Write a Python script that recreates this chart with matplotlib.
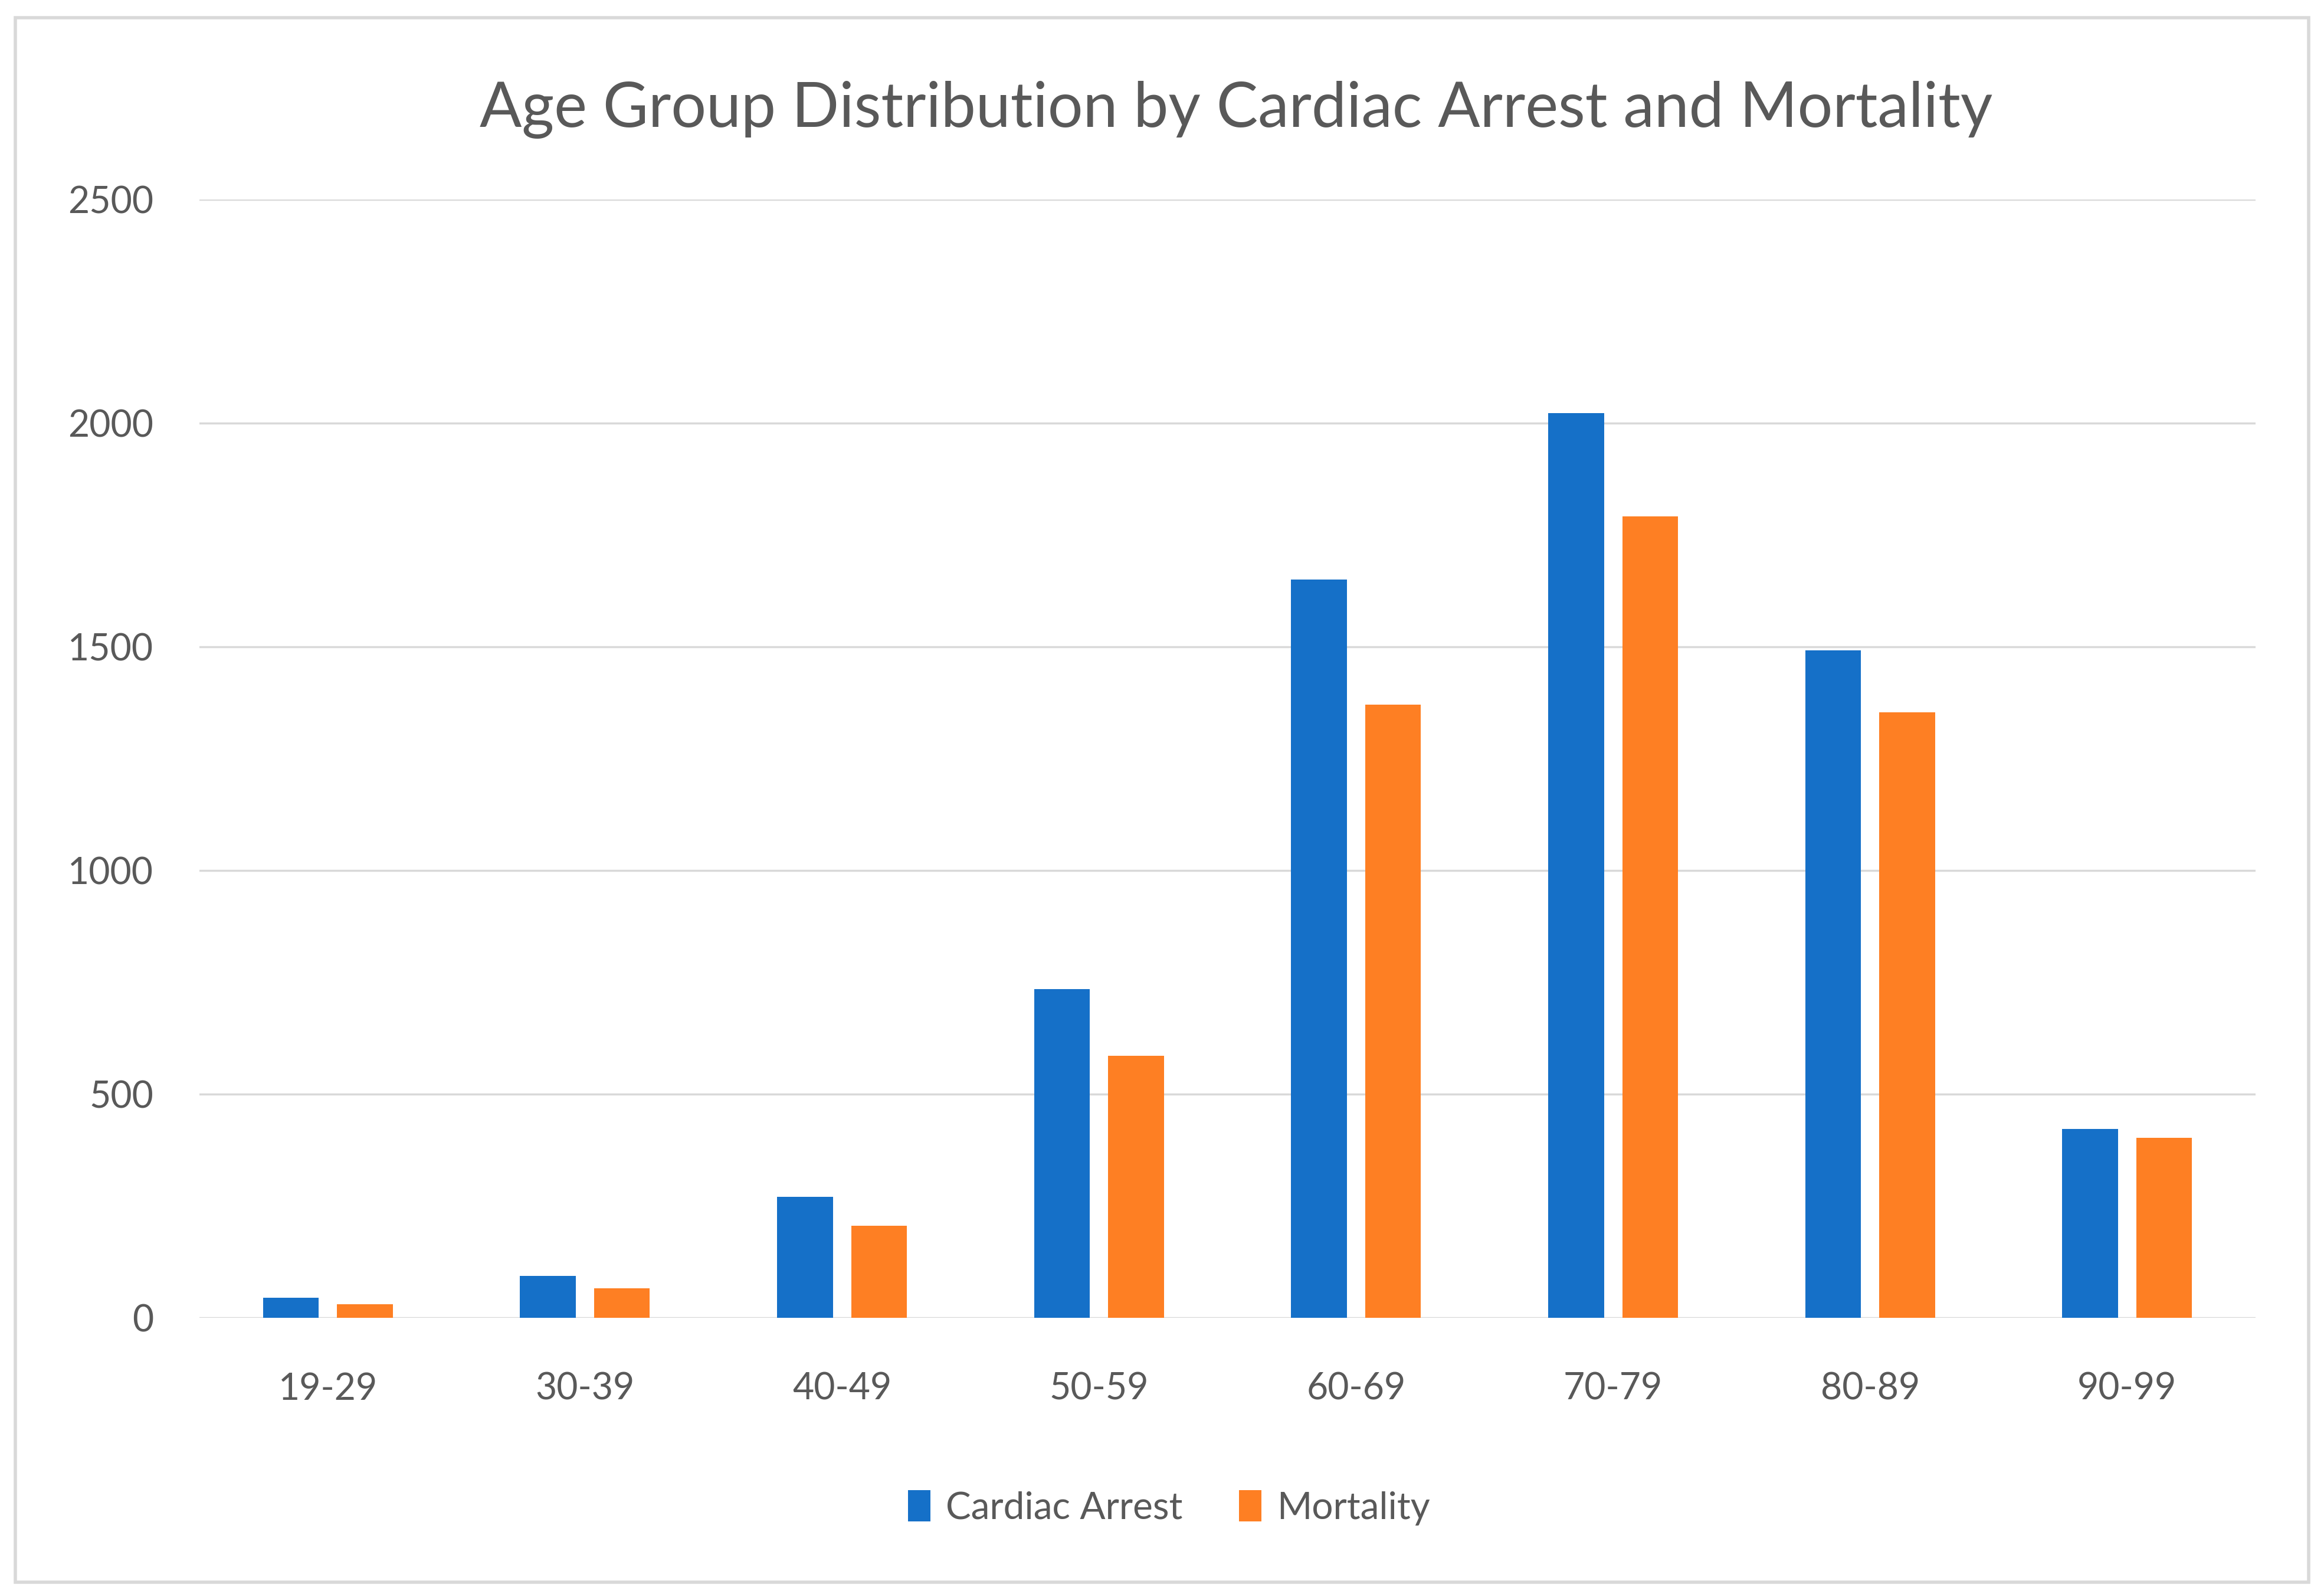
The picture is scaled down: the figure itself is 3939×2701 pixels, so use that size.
import matplotlib.pyplot as plt
import numpy as np
from matplotlib.patches import Rectangle

groups = ['19-29', '30-39', '40-49', '50-59', '60-69', '70-79', '80-89', '90-99']
cardiac_arrest = [45, 93, 270, 735, 1650, 2022, 1492, 422]
mortality = [30, 66, 206, 585, 1370, 1791, 1354, 402]

blue = '#1570C8'
orange = '#FE7F23'
txt = '#595959'
grid = '#D9D9D9'

plt.rcParams['font.family'] = ['Lato', 'DejaVu Sans']

fig = plt.figure(figsize=(39.39, 27.01), dpi=100)
ax = fig.add_axes([0.0858, 0.1733, 0.8848, 0.7016])

x = np.arange(len(groups))
w = 0.217
ax.bar(x - 0.144, cardiac_arrest, w, color=blue, label='Cardiac Arrest', zorder=3)
ax.bar(x + 0.144, mortality, w, color=orange, label='Mortality', zorder=3)

ax.set_xlim(-0.5, len(groups) - 0.5)
ax.set_ylim(0, 2500)
ax.set_yticks(np.arange(0, 2501, 500))
ax.set_xticks(x)
ax.set_xticklabels(groups)
ax.yaxis.grid(True, color=grid, linewidth=2.5, zorder=0)
ax.set_axisbelow(True)
for s in ax.spines.values():
    s.set_visible(False)
ax.tick_params(axis='both', length=0, labelsize=45, colors=txt)
ax.tick_params(axis='y', pad=56)
ax.tick_params(axis='x', pad=66)

fig.text(0.532, 0.931, 'Age Group Distribution by Cardiac Arrest and Mortality',
         ha='center', va='center', fontsize=76, color=txt)

fig.legend(loc='center', bbox_to_anchor=(0.503, 0.054), ncol=2, frameon=False,
           fontsize=46, labelcolor=txt, handlelength=0.6, handleheight=0.9,
           handletextpad=0.4, columnspacing=1.5)

fig.patches.append(Rectangle((0.0065, 0.0075), 0.987, 0.9815, transform=fig.transFigure,
                             fill=False, edgecolor=grid, linewidth=4))

fig.savefig('out.png', dpi=100, facecolor='white')
